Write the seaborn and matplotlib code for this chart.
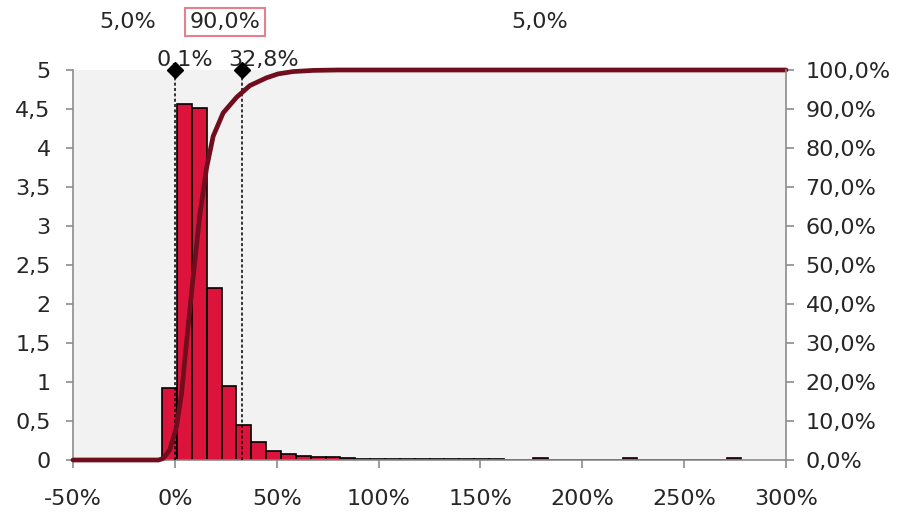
import numpy as np
import pandas as pd
import matplotlib
matplotlib.use("Agg")
import matplotlib.pyplot as plt
from matplotlib.ticker import FuncFormatter, MultipleLocator
import seaborn as sns

# histogram (density per bin), 45 bins of equal width starting at -50%
bin_start = -50
bin_width = 350 / 48
bin_heights = [0, 0, 0, 0, 0, 0, 0.92, 4.57, 4.51, 2.21, 0.95, 0.45, 0.235, 0.12,
               0.073, 0.045, 0.035, 0.035, 0.02, 0.018, 0.015, 0.015, 0.012, 0.012,
               0.01, 0.01, 0.01, 0.01, 0.01, 0, 0, 0.025, 0, 0, 0, 0, 0, 0.025,
               0, 0, 0, 0, 0, 0, 0.025]

# cumulative curve (right axis, %)
cdf_x = [-50, -8, -5.7, -2.5, 0.8, 3.3, 5.7, 9, 12.3, 15.6, 18.8, 23.7, 30.3, 36.8,
         45, 50.7, 58, 68, 80, 300]
cdf_y = [0, 0, 0.4, 2.6, 8.5, 17, 30, 47, 63, 75, 83, 89, 93, 96, 98, 99, 99.6,
         99.9, 100, 100]

# percentile markers
marker_x = [0.1, 32.8]
marker_labels = ["0,1%", "32,8%"]
region_labels = ["5,0%", "90,0%", "5,0%"]

sns.set_theme(style="white")
plt.rcParams["font.family"] = ["DejaVu Sans"]
plt.rcParams["font.size"] = 16

fig = plt.figure(figsize=(9.01, 5.12), dpi=100)
ax = fig.add_axes([73 / 901, 52 / 512, 713 / 901, 390 / 512])
ax.set_facecolor("#F2F2F2")

n_bins = len(bin_heights)
centers = [bin_start + (i + 0.5) * bin_width for i in range(n_bins)]
hist_df = pd.DataFrame({"x": centers, "w": bin_heights})
sns.histplot(data=hist_df, x="x", weights="w", bins=n_bins,
             binrange=(bin_start, bin_start + n_bins * bin_width),
             stat="count", color="#DC143C", alpha=1, edgecolor="black",
             linewidth=1.2, ax=ax, zorder=2)

ax.set_xlim(-50, 300)
ax.set_ylim(0, 5)
ax.xaxis.set_major_locator(MultipleLocator(50))
ax.yaxis.set_major_locator(MultipleLocator(0.5))
ax.xaxis.set_major_formatter(FuncFormatter(lambda v, p: f"{v:.0f}%"))
ax.yaxis.set_major_formatter(FuncFormatter(lambda v, p: f"{v:g}".replace(".", ",")))
ax.set_xlabel("")
ax.set_ylabel("")

grey = "#8C8C8C"
for s in ["top", "right"]:
    ax.spines[s].set_visible(False)
for s in ["left", "bottom"]:
    ax.spines[s].set_color(grey)
    ax.spines[s].set_linewidth(1.2)
ax.tick_params(axis="y", direction="out", length=5, width=1.2, color=grey, pad=11,
               left=True, labelsize=16)
ax.tick_params(axis="x", direction="out", length=6, width=1.2, color=grey, pad=15,
               bottom=True, labelsize=16)

# percentile lines and markers
for xv in marker_x:
    ax.plot([xv, xv], [0, 5], ls=(0, (2, 1.5)), color="black", lw=1.1, zorder=4)
    ax.plot([xv], [5], marker="D", ms=8, color="black", clip_on=False, zorder=6)
ax.annotate(marker_labels[0], xy=(marker_x[0], 5), xytext=(7, 7),
            textcoords="offset points", ha="center", va="center", fontsize=16)
ax.annotate(marker_labels[1], xy=(marker_x[1], 5), xytext=(16, 7),
            textcoords="offset points", ha="center", va="center", fontsize=16)

trans = ax.get_xaxis_transform()
ax.text(-23, 1.123, region_labels[0], transform=trans, ha="center", va="center",
        fontsize=16)
ax.text(24.5, 1.123, region_labels[1], transform=trans, ha="center", va="center",
        fontsize=16, bbox=dict(boxstyle="square,pad=0.2", fc="white",
                               ec="#E5808D", lw=1.5))
ax.text(179, 1.123, region_labels[2], transform=trans, ha="center", va="center",
        fontsize=16)

# cumulative curve on right axis
ax2 = ax.twinx()
sns.lineplot(x=cdf_x, y=cdf_y, color="#700E1E", lw=3.4, ax=ax2, clip_on=False,
             solid_joinstyle="round", solid_capstyle="round")
ax2.set_ylim(0, 100)
ax2.set_xlim(-50, 300)
ax2.yaxis.set_major_locator(MultipleLocator(10))
ax2.yaxis.set_major_formatter(FuncFormatter(lambda v, p: f"{v:.1f}%".replace(".", ",")))
for s in ["top", "left", "bottom"]:
    ax2.spines[s].set_visible(False)
ax2.spines["right"].set_color(grey)
ax2.spines["right"].set_linewidth(1.2)
ax2.tick_params(axis="y", direction="out", length=6, width=1.2, color=grey, pad=8,
                right=True, labelsize=16)

fig.savefig("out.png", dpi=100)
